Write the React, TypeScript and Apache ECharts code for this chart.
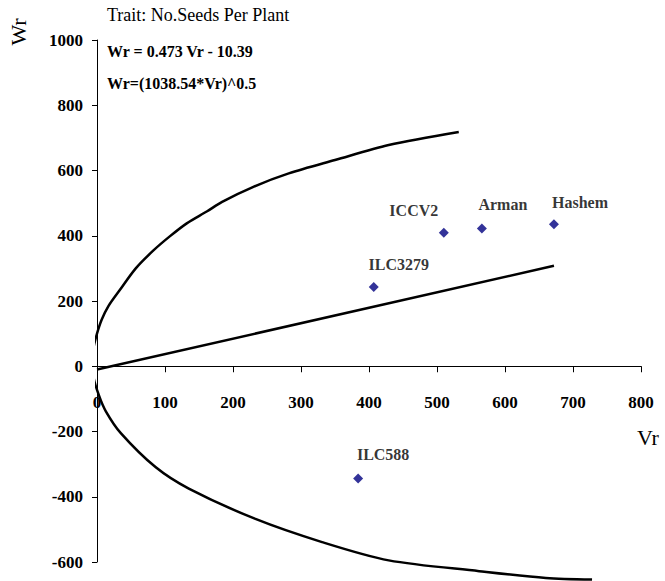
import React, { useEffect, useRef } from "react";
import * as echarts from "echarts";

// Genotype points (Vr, Wr)
const pointNames = ["ILC3279", "ICCV2", "Arman", "Hashem", "ILC588"];
const pointVr = [407, 510, 566, 672, 384];
const pointWr = [243, 409, 422, 435, -344];

// Regression line Wr = 0.473 Vr - 10.39 (end points)
const lineVr = [0, 672];
const lineWr = [-10, 308];

// Limiting parabola, upper branch (from its right end back to the origin)
const upperVr = [532, 429, 350, 282, 230, 184, 162, 132, 107, 83, 57, 33, 17, 7, 0, -5, -6];
const upperWr = [718, 678, 632, 591, 550, 504, 475, 438, 398, 355, 300, 232, 185, 143, 100, 58, 17];
// lower branch (from the origin to its right end)
const lowerVr = [-5, 3, 13, 35, 86, 135, 233, 331, 429, 562, 660, 728];
const lowerWr = [-34, -90, -138, -205, -309, -375, -468, -539, -595, -628, -649, -654];

const xMin = 0, xMax = 800, xStep = 100;
const yMin = -600, yMax = 1000, yStep = 200;

const titleText = "Trait: No.Seeds Per Plant";
const eq1Text = "Wr = 0.473 Vr - 10.39";
const eq2Text = "Wr=(1038.54*Vr)^0.5";

const SERIF = "'Liberation Serif', 'Times New Roman', serif";
const labelOffsets: Record<string, [number, number]> = {
  ILC3279: [25, -4],
  ICCV2: [-30, -4],
  Arman: [21, -6],
  Hashem: [26, -4],
  ILC588: [25, -6],
};

const GRID_TOP = 40;
const GRID_BOTTOM = 19;
const CHART_H = 581;

export default function App() {
  const ref = useRef<HTMLDivElement>(null);
  useEffect(() => {
    if (!ref.current) return;
    const chart = echarts.init(ref.current, undefined, { renderer: "svg" });
    const curve = [
      ...upperVr.map((v, i) => [v, upperWr[i]]),
      ...lowerVr.map((v, i) => [v, lowerWr[i]]),
    ];
    const plotH = CHART_H - GRID_TOP - GRID_BOTTOM;
    const zeroOffset = -plotH * ((0 - yMin) / (yMax - yMin));
    chart.setOption({
      animation: false,
      backgroundColor: "#ffffff",
      grid: { left: 97, right: 24, top: GRID_TOP, bottom: GRID_BOTTOM, outerBoundsMode: "none" },
      xAxis: {
        type: "value",
        min: xMin,
        max: xMax,
        interval: xStep,
        offset: zeroOffset,
        axisLine: { onZero: false, lineStyle: { color: "#000", width: 1 } },
        axisTick: { show: true, length: 6, lineStyle: { color: "#000" } },
        axisLabel: {
          color: "#000",
          fontFamily: SERIF,
          fontWeight: "bold",
          fontSize: 17,
          margin: 28,
          formatter: (v: number) => String(v),
        },
        splitLine: { show: false },
      },
      yAxis: {
        type: "value",
        min: yMin,
        max: yMax,
        interval: yStep,
        axisLine: { show: true, onZero: false, lineStyle: { color: "#000", width: 1 } },
        axisTick: { show: true, length: 5, lineStyle: { color: "#000" } },
        axisLabel: {
          color: "#000",
          fontFamily: SERIF,
          fontWeight: "bold",
          fontSize: 17,
          margin: 14,
          formatter: (v: number) => String(v),
        },
        splitLine: { show: false },
      },
      series: [
        {
          type: "line",
          data: curve,
          smooth: 0.3,
          symbol: "none",
          clip: false,
          lineStyle: { color: "#000", width: 2.5 },
          z: 2,
        },
        {
          type: "line",
          data: lineVr.map((v, i) => [v, lineWr[i]]),
          symbol: "none",
          clip: false,
          lineStyle: { color: "#000", width: 2.5 },
          z: 2,
        },
        {
          type: "scatter",
          symbol: "diamond",
          symbolSize: 10,
          itemStyle: { color: "#000080" },
          data: pointNames.map((n, i) => ({
            name: n,
            value: [pointVr[i], pointWr[i]],
            label: { offset: labelOffsets[n] },
          })),
          label: {
            show: true,
            position: "top",
            formatter: "{b}",
            color: "#000",
            fontFamily: SERIF,
            fontWeight: "bold",
            fontSize: 16,
          },
          z: 3,
        },
      ],
      graphic: [
        {
          type: "text",
          left: 107,
          top: 6,
          style: { text: titleText, font: `18px ${SERIF}`, fill: "#000" },
        },
        {
          type: "text",
          left: 107,
          top: 43,
          style: { text: eq1Text, font: `bold 16px ${SERIF}`, fill: "#000" },
        },
        {
          type: "text",
          left: 107,
          top: 75,
          style: { text: eq2Text, font: `bold 16px ${SERIF}`, fill: "#000" },
        },
        {
          type: "text",
          x: 18,
          y: 32,
          rotation: Math.PI / 2,
          style: {
            text: "Wr",
            font: `22px ${SERIF}`,
            fill: "#000",
            align: "center",
            verticalAlign: "middle",
          },
        },
        {
          type: "text",
          x: 648,
          y: 437,
          style: {
            text: "Vr",
            font: `22px ${SERIF}`,
            fill: "#000",
            align: "center",
            verticalAlign: "middle",
          },
        },
      ],
    });
    return () => chart.dispose();
  }, []);
  return (
    <div
      ref={ref}
      style={{ position: "fixed", left: 0, top: 0, width: 665, height: 581, background: "#fff" }}
    />
  );
}
